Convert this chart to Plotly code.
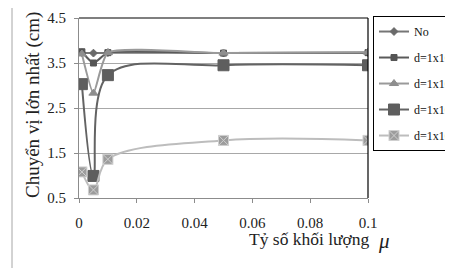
import plotly.graph_objects as go

mu = [0.001, 0.005, 0.01, 0.05, 0.1]
series_names = ["No", "d=1x10^2", "d=1x10^3", "d=1x10^4", "d=1x10^5"]
y_no = [3.73, 3.72, 3.73, 3.72, 3.73]
y_d2 = [3.75, 3.50, 3.73, 3.72, 3.73]
y_d3 = [3.70, 2.83, 3.73, 3.72, 3.74]
y_d4 = [3.03, 0.99, 3.23, 3.45, 3.45]
y_d5 = [1.08, 0.68, 1.36, 1.78, 1.78]
x_ticks = [0, 0.02, 0.04, 0.06, 0.08, 0.1]
y_ticks = [0.5, 1.5, 2.5, 3.5, 4.5]

# page offset of the figure inside the browser window
OX, OY = 8, 10
W, H = 480, 275
ML, MT = 79 - OX, 18 - OY
PW, PH = 289, 182
MR = W - ML - PW
MB = H - MT - PH


def xp(px):
    return (px - OX - ML) / PW


def yp(py):
    return (MT + PH - (py - OY)) / PH


styles = [
    dict(line="#767676", marker="#6a6a6a", symbol="diamond", size=6, mline="#6a6a6a", sm=0.5),
    dict(line="#5a5a5a", marker="#555555", symbol="square", size=6, mline="#555555", sm=0.5),
    dict(line="#9a9a9a", marker="#8e8e8e", symbol="triangle-up", size=8, mline="#8e8e8e", sm=0.5),
    dict(line="#636363", marker="#5e5e5e", symbol="square", size=11, mline="#5e5e5e", sm=1.0),
    dict(line="#bdbdbd", marker="#9c9c9c", symbol="square-x", size=10, mline="#cfcfcf", sm=1.0),
]
data = [y_no, y_d2, y_d3, y_d4, y_d5]

fig = go.Figure()
for i, (name, ys, st) in enumerate(zip(series_names, data, styles)):
    fig.add_trace(go.Scatter(
        x=mu, y=ys, name=name, mode="lines+markers",
        line=dict(color=st["line"], width=2, shape="spline", smoothing=st["sm"]),
        marker=dict(symbol=st["symbol"], size=st["size"], color=st["marker"],
                    line=dict(color=st["mline"], width=1)),
        legendgroup="g%d" % i,
    ))

font_family = "'Liberation Serif', 'Times New Roman', Times, serif"
legend_family = "Liberation Serif"
fig.update_layout(
    width=W, height=H,
    margin=dict(l=ML, r=MR, t=MT, b=MB, pad=0),
    paper_bgcolor="white", plot_bgcolor="white",
    font=dict(family=font_family, color="#222222"),
    showlegend=True,
    legend=dict(
        x=xp(373), y=yp(16), xanchor="left", yanchor="top",
        bordercolor="#000000", borderwidth=1, bgcolor="white",
        font=dict(size=12, family=legend_family, color="#111111"),
        tracegroupgap=7, itemwidth=30,
    ),
    xaxis=dict(
        range=[0, 0.1], tickvals=x_ticks, ticktext=["0", "0.02", "0.04", "0.06", "0.08", "0.1"],
        showgrid=False, zeroline=False, showline=True, linecolor="#8c8c8c", linewidth=1,
        ticks="outside", ticklen=4, tickcolor="#8c8c8c", automargin=False,
        tickfont=dict(size=15, family=font_family, color="#222222"),
        ticklabelstandoff=7,
    ),
    yaxis=dict(
        range=[0.5, 4.5], tickvals=y_ticks, ticktext=["0.5", "1.5", "2.5", "3.5", "4.5"],
        showgrid=True, gridcolor="#a8a8a8", gridwidth=1, zeroline=False,
        showline=True, linecolor="#8c8c8c", linewidth=1, automargin=False,
        ticks="outside", ticklen=4, tickcolor="#8c8c8c",
        tickfont=dict(size=15, family=font_family, color="#222222"),
        ticklabelstandoff=5,
    ),
    shapes=[
        dict(type="rect", xref="paper", yref="paper", x0=xp(12), x1=xp(540),
             y0=yp(320), y1=yp(5), line=dict(color="#a6a6a6", width=1), layer="below"),
        dict(type="line", xref="paper", yref="paper", x0=0, x1=1, y0=1, y1=1,
             line=dict(color="#000000", width=1.2)),
        dict(type="line", xref="paper", yref="paper", x0=1, x1=1, y0=0, y1=1,
             line=dict(color="#000000", width=1.2)),
    ],
    annotations=[
        dict(text="Chuyển vị lớn nhất (cm)", textangle=-90, xref="paper", yref="paper",
             x=xp(33), y=yp(106), xanchor="center", yanchor="middle", showarrow=False,
             font=dict(size=19, family=font_family, color="#222222")),
        dict(text="Tỷ số khối lượng", xref="paper", yref="paper",
             x=xp(247), y=yp(241), xanchor="left", yanchor="middle", showarrow=False,
             font=dict(size=17.5, family=font_family, color="#222222")),
        dict(text="<i>μ</i>", xref="paper", yref="paper",
             x=xp(376), y=yp(243), xanchor="left", yanchor="middle", showarrow=False,
             font=dict(size=21, family=font_family, color="#222222")),
    ],
)

fig.write_html(
    "out.html",
    post_script="document.documentElement.style.overflow='hidden';document.body.style.overflow='hidden';",
)
